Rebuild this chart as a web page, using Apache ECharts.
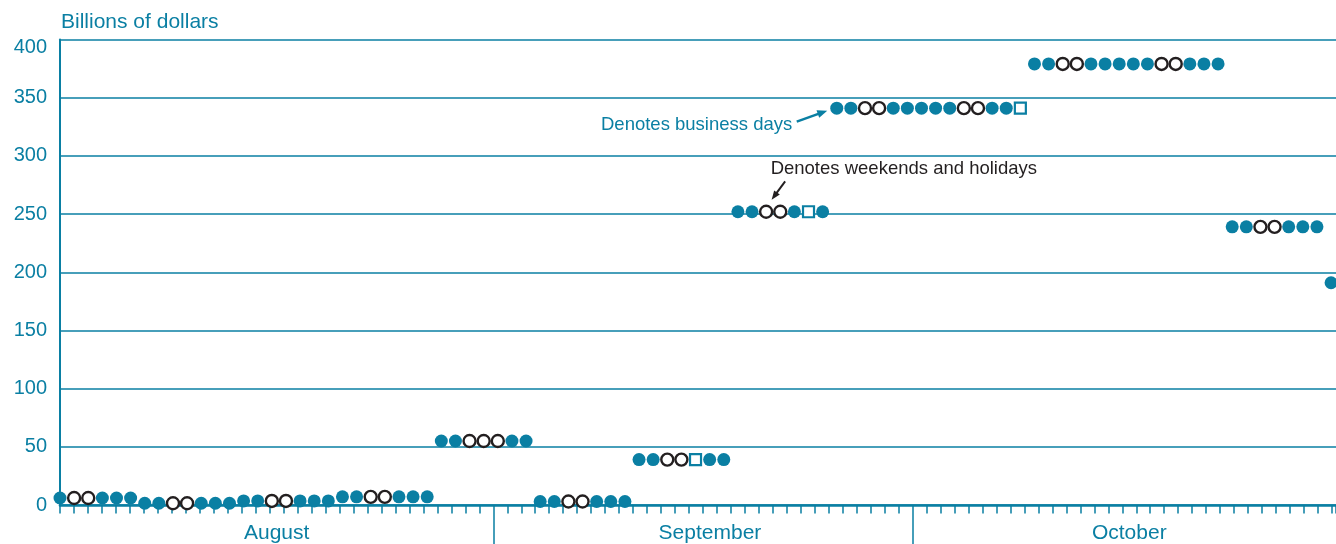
<!DOCTYPE html>
<html><head><meta charset="utf-8">
<script src="https://cdn.jsdelivr.net/npm/echarts@6/dist/echarts.min.js"></script>
<style>html,body{margin:0;padding:0;background:#fff}#c{width:1336px;height:544px}</style>
</head><body><div id="c"></div>
<script>
// Day index 0 = August 1, 2008 ... 90 = October 30, 2008
const months = ['August', 'September', 'October'];
const yTickLabels = ['0', '50', '100', '150', '200', '250', '300', '350', '400'];
const values = [
  6, 6, 6, 6, 6, 6,
  1.5, 1.5, 1.5, 1.5, 1.5, 1.5, 1.5,
  3.5, 3.5, 3.5, 3.5, 3.5, 3.5, 3.5,
  7, 7, 7, 7, 7, 7, 7,
  55, 55, 55, 55, 55, 55, 55,
  3, 3, 3, 3, 3, 3, 3,
  39, 39, 39, 39, 39, 39, 39,
  252, 252, 252, 252, 252, 252, 252,
  341, 341, 341, 341, 341, 341, 341, 341, 341, 341, 341, 341, 341, 341,
  379, 379, 379, 379, 379, 379, 379, 379, 379, 379, 379, 379, 379, 379,
  239, 239, 239, 239, 239, 239, 239,
  191
];
// B = business day, H = weekend or holiday, S = square marker
const dayKinds = [
  'B','H','H','B','B','B',
  'B','B','H','H','B','B','B',
  'B','B','H','H','B','B','B',
  'B','B','H','H','B','B','B',
  'B','B','H','H','H','B','B',
  'B','B','H','H','B','B','B',
  'B','B','H','H','S','B','B',
  'B','B','H','H','B','S','B',
  'B','B','H','H','B','B','B','B','B','H','H','B','B','S',
  'B','B','H','H','B','B','B','B','B','H','H','B','B','B',
  'B','B','H','H','B','B','B',
  'B'
];
const annBusiness = 'Denotes business days';
const annWeekend = 'Denotes weekends and holidays';
const unitLabel = 'Billions of dollars';

const TEAL = '#0a7fa3';
const INK = '#231f20';
const FONT = '"Liberation Sans", Arial, Helvetica, sans-serif';

const business = [], weekend = [], squares = [];
values.forEach((v, i) => {
  const p = [i, v];
  if (dayKinds[i] === 'H') weekend.push(p);
  else if (dayKinds[i] === 'S') squares.push(p);
  else business.push(p);
});

const monthLabelAt = [15.5, 46.5, 76.5];
const chart = echarts.init(document.getElementById('c'), null, { renderer: 'canvas' });
const gridRect = { left: 60, right: 0, top: 39.5, bottom: 38.3, containLabel: false };

chart.setOption({
  animation: false,
  textStyle: { fontFamily: FONT },
  grid: [Object.assign({}, gridRect), Object.assign({}, gridRect)],
  xAxis: [
    { gridIndex: 0, type: 'value', min: 0, max: 90.35, show: false, position: 'top' },
    {
      gridIndex: 0, type: 'value', min: 0, max: 91.29, interval: 1, position: 'bottom',
      axisLine: { show: true, onZero: false, lineStyle: { color: TEAL, width: 2.6 } },
      axisTick: { show: true, length: 8.5, lineStyle: { color: TEAL, width: 1.5 } },
      axisLabel: {
        show: true, customValues: monthLabelAt,
        formatter: (v) => { const i = monthLabelAt.indexOf(v); return i >= 0 ? months[i] : ''; },
        color: TEAL, fontSize: 21, margin: 18, fontFamily: FONT
      },
      splitLine: { show: false }
    },
    {
      gridIndex: 1, type: 'value', min: 0, max: 91.29, position: 'bottom',
      axisLine: { show: false },
      axisTick: { show: true, customValues: [31, 61], length: 39, lineStyle: { color: TEAL, width: 1.5 } },
      axisLabel: { show: false },
      splitLine: { show: false }
    }
  ],
  yAxis: [
    {
      gridIndex: 0, type: 'value', min: 0, max: 400, interval: 50,
      axisLine: { show: true, onZero: false, lineStyle: { color: TEAL, width: 2 } },
      axisTick: { show: false },
      axisLabel: {
        color: TEAL, fontSize: 20, margin: 13, fontFamily: FONT,
        formatter: (v) => {
          const s = yTickLabels[Math.round(v / 50)];
          return v === 400 ? '{top|' + s + '}' : s;
        },
        rich: { top: { color: TEAL, fontSize: 20, fontFamily: FONT, padding: [15, 0, 0, 0] } }
      },
      splitLine: { show: true, lineStyle: { color: TEAL, width: 1.6 } }
    },
    { gridIndex: 1, type: 'value', min: 0, max: 400, show: false }
  ],
  series: [
    {
      type: 'scatter', xAxisIndex: 0, yAxisIndex: 0, data: business, silent: true,
      symbol: 'circle', symbolSize: 13, itemStyle: { color: TEAL, opacity: 1 }, z: 5
    },
    {
      type: 'scatter', xAxisIndex: 0, yAxisIndex: 0, data: weekend, silent: true,
      symbol: 'circle', symbolSize: 12, itemStyle: { color: '#ffffff', borderColor: INK, borderWidth: 2.4, opacity: 1 }, z: 5
    },
    {
      type: 'scatter', xAxisIndex: 0, yAxisIndex: 0, data: squares, silent: true,
      symbol: 'rect', symbolSize: 11, itemStyle: { color: '#ffffff', borderColor: TEAL, borderWidth: 2.2, opacity: 1 }, z: 5
    }
  ]
});

function arrow(x1, y1, x2, y2, color, w, hl, hw) {
  const ang = Math.atan2(y2 - y1, x2 - x1);
  const bx = x2 - hl * Math.cos(ang), by = y2 - hl * Math.sin(ang);
  const nx = -Math.sin(ang) * hw / 2, ny = Math.cos(ang) * hw / 2;
  return [
    { type: 'line', silent: true, shape: { x1, y1, x2: bx + (x2 - bx) * 0.2, y2: by + (y2 - by) * 0.2 }, style: { stroke: color, lineWidth: w } },
    { type: 'polygon', silent: true, shape: { points: [[x2, y2], [bx + nx, by + ny], [bx - nx, by - ny]] }, style: { fill: color } }
  ];
}

const pB = chart.convertToPixel({ xAxisIndex: 0, yAxisIndex: 0 }, [55, values[55]]);
const pW = chart.convertToPixel({ xAxisIndex: 0, yAxisIndex: 0 }, [50, values[50]]);

const g = [
  { type: 'text', silent: true, x: 61, y: 22.5, style: { text: unitLabel, fill: TEAL, fontSize: 21, fontFamily: FONT, align: 'left', verticalAlign: 'middle' } },
  { type: 'text', silent: true, x: pB[0] - 44.5, y: pB[1] + 16.5, style: { text: annBusiness, fill: TEAL, fontSize: 18.5, fontFamily: FONT, align: 'right', verticalAlign: 'middle' } },
  { type: 'text', silent: true, x: pW[0] + 4.5, y: pW[1] - 42.7, style: { text: annWeekend, fill: INK, fontSize: 18.5, fontFamily: FONT, align: 'left', verticalAlign: 'middle' } }
].concat(
  arrow(pB[0] - 40, pB[1] + 13.5, pB[0] - 9.5, pB[1] + 2.5, TEAL, 2.5, 10, 8),
  arrow(pW[0] + 19, pW[1] - 30.3, pW[0] + 5.5, pW[1] - 12, INK, 2, 9, 7)
);
chart.setOption({ graphic: g });
</script>
</body></html>
